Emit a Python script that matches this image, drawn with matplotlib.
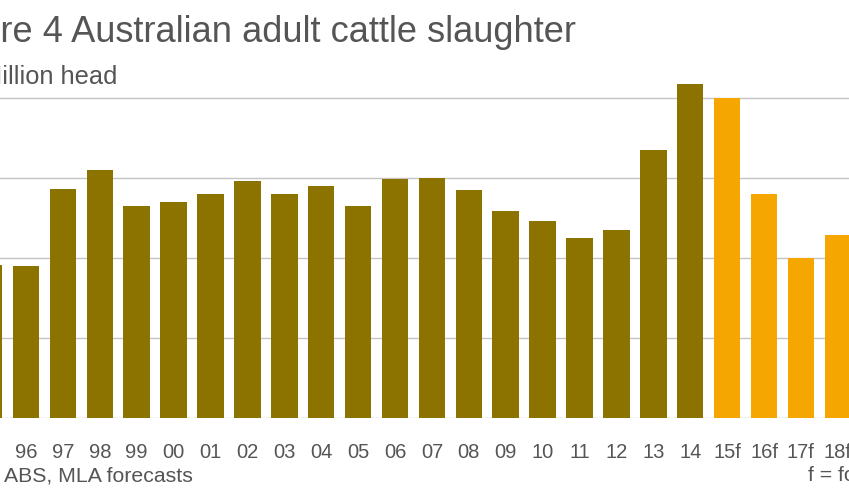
import matplotlib
matplotlib.use("Agg")
import matplotlib.pyplot as plt
import numpy as np

years = ["95", "96", "97", "98", "99", "00", "01", "02", "03", "04", "05", "06",
         "07", "08", "09", "10", "11", "12", "13", "14", "15f", "16f", "17f", "18f"]
slaughter = [6.92, 6.90, 7.87, 8.11, 7.66, 7.70, 7.80, 7.97, 7.80, 7.90, 7.65, 7.99,
             8.00, 7.85, 7.59, 7.47, 7.25, 7.35, 8.35, 9.18, 9.00, 7.80, 7.00, 7.29]
is_forecast = [False] * 20 + [True] * 4

ACTUAL = "#8c7300"
FORECAST = "#f5a600"
TEXT = "#555555"

plt.rcParams['font.family'] = ['Liberation Sans', 'DejaVu Sans']

W, H = 849, 494
fig = plt.figure(figsize=(W / 100, H / 100), dpi=100)

# axes spans beyond the visible canvas (reference is a cropped view)
left_px = -29.35
right_px = 856.25
y5_px = 75.7          # pixel height (from bottom) of value 5
px_per_unit = 80.0
ymin, ymax = 5, 9.5
ax = fig.add_axes([left_px / W, y5_px / H, (right_px - left_px) / W,
                   (ymax - ymin) * px_per_unit / H])

x = np.arange(len(years))
colors = [FORECAST if f else ACTUAL for f in is_forecast]
ax.bar(x, slaughter, width=0.72, color=colors, zorder=3, bottom=0)
ax.set_xlim(-0.5, len(years) - 0.5)
ax.set_ylim(ymin, ymax)
ax.set_yticks([5, 6, 7, 8, 9])
ax.yaxis.grid(True, color="#c4c4c4", linewidth=1.0, zorder=0)
ax.set_axisbelow(True)
for s in ax.spines.values():
    s.set_visible(False)
ax.tick_params(axis='y', left=False, labelleft=False)
ax.set_xticks(x)
ax.set_xticklabels(years)
ax.tick_params(axis='x', bottom=False, pad=14, labelsize=14.5, labelcolor=TEXT)

fig.text(576 / W, (H - 42.5) / H, "Figure 4 Australian adult cattle slaughter",
         ha='right', va='baseline', fontsize=26.1, color=TEXT)
fig.text(117 / W, (H - 84.3) / H, "Million head",
         ha='right', va='baseline', fontsize=18.3, color=TEXT)
fig.text(193 / W, (H - 481) / H, "Source: ABS, MLA forecasts",
         ha='right', va='baseline', fontsize=15.3, color=TEXT)
fig.text(808 / W, (H - 481) / H, "f = forecast",
         ha='left', va='baseline', fontsize=15.3, color=TEXT)

fig.savefig("out.png", dpi=100)
